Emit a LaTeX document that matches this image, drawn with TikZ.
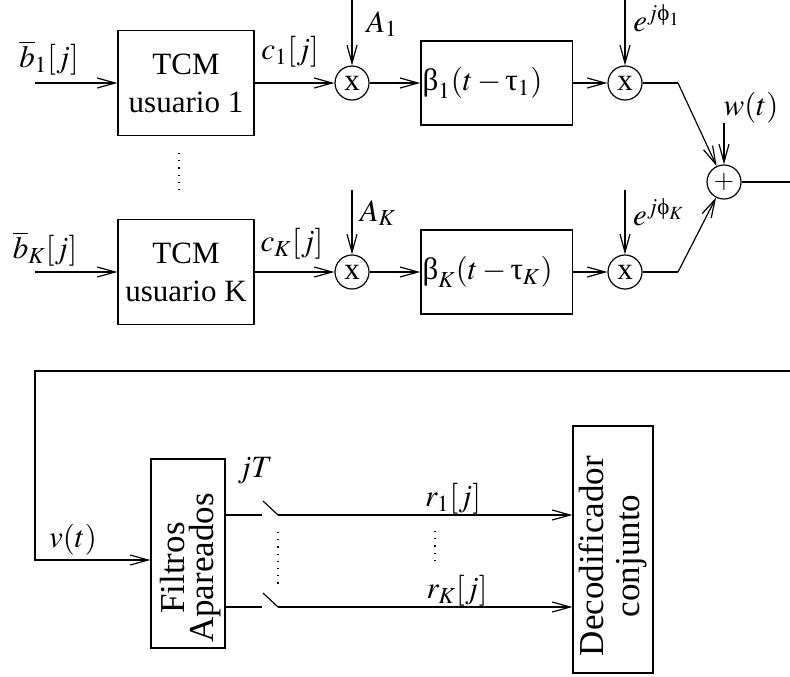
\documentclass[tikz,border=0pt]{standalone}
\usepackage{mathptmx}
\usepackage{amsmath}
\usepackage{fontspec}
\setmainfont{Liberation Serif}
\usetikzlibrary{arrows.meta}
\newcommand{\gbeta}{\text{β}}
\newcommand{\gtau}{\text{τ}}
\newcommand{\gphi}{\text{ϕ}}
\begin{document}
\begin{tikzpicture}[x=0.5pt,y=-0.5pt,
  every node/.style={font=\fontsize{15.5}{19}\selectfont, inner sep=0pt},
  blk/.style={draw, line width=0.6pt, align=center},
  rotblk/.style={rotate=90, align=center},
  mult/.style={draw, circle, minimum size=17pt, line width=0.6pt},
  dots/.style={dash pattern=on 0.6pt off 3pt, line width=0.6pt},
  line width=0.6pt,
  >={Straight Barb[length=9pt,width=5pt]}]
\useasboundingbox (0,0) rectangle (790,676);

% ---------- top row ----------
\node[blk, minimum width=68pt, minimum height=52.5pt] (tcm1) at (186,83) {TCM\\usuario 1};
\node[mult] (m1) at (352,83) {x};
\node[blk, minimum width=75.5pt, minimum height=42pt, inner sep=0.8pt] (bt1) at (496.5,83) {\makebox[74pt][l]{$\gbeta_1(t-\gtau_1)$}};
\node[mult] (m2) at (625,83) {x};
\node[mult] (sum) at (724,182) {\fontsize{13}{13}\selectfont$+$};

\coordinate (in1) at (35,83);
\coordinate (a1) at (352,0);
\coordinate (e1) at (625,0);
\coordinate (k1) at (678,83);
\coordinate (wt) at (724,123);
\coordinate (out) at (790,182);

\draw[->] (in1) -- (in1 -| tcm1.west);
\draw[->] (tcm1) -- (m1);
\draw[->] (a1) -- (m1);
\draw[->] (m1) -- (bt1);
\draw[->] (bt1) -- (m2);
\draw[->] (e1) -- (m2);
\draw (m2) -- (k1);
\draw[->] (k1) -- (sum);
\draw[->] (wt) -- (sum);
\draw (sum) -- (out);

\node (lb1) at (49,58) {$\overline{b}_1[j]$};
\node (lc1) at (290,52) {$c_1[j]$};
\node (lA1) at (382,24) {$A_1$};
\node (le1) at (657,18) {$e^{j\gphi_1}$};
\node (lw) at (751,108) {$w(t)$};

% ---------- bottom row ----------
\node[blk, minimum width=68pt, minimum height=52.5pt] (tcmK) at (186,272) {TCM\\usuario K};
\node[mult] (mK1) at (352,272) {x};
\node[blk, minimum width=75.5pt, minimum height=42pt, inner sep=0.8pt] (btK) at (496.5,272) {\makebox[74pt][l]{$\gbeta_K(t-\gtau_K)$}};
\node[mult] (mK2) at (625,272) {x};

\coordinate (inK) at (35,272);
\coordinate (aK) at (352,190);
\coordinate (eK) at (625,190);
\coordinate (kK) at (678,272);

\draw[->] (inK) -- (inK -| tcmK.west);
\draw[->] (tcmK) -- (mK1);
\draw[->] (aK) -- (mK1);
\draw[->] (mK1) -- (btK);
\draw[->] (btK) -- (mK2);
\draw[->] (eK) -- (mK2);
\draw (mK2) -- (kK);
\draw[->] (kK) -- (sum);

\node (lbK) at (45,249) {$\overline{b}_K[j]$};
\node (lcK) at (292,244) {$c_K[j]$};
\node (lAK) at (378,213) {$A_K$};
\node (leK) at (659,212) {$e^{j\gphi_K}$};

\coordinate (d1a) at (179,153);
\coordinate (d1b) at (179,196);
\draw[dots] (d1a) -- (d1b);

% ---------- receiver ----------
\node[blk, minimum width=37pt, minimum height=94.5pt] (filt) at (188,553.5) {};
\node[rotblk, font=\fontsize{17.5}{14.5}\selectfont] (filttxt) at (191,568) {Filtros\\Apareados};
\node[blk, minimum width=40pt, minimum height=123.5pt] (dec) at (613,549.5) {};
\node[rotblk, font=\fontsize{17.5}{18}\selectfont] (dectxt) at (613,556) {Decodificador\\conjunto};

\coordinate (fb0) at (790,371);
\coordinate (fb1) at (35,371);
\coordinate (fb2) at (35,560);
\draw[->] (fb0) -- (fb1) -- (fb2) -- (fb2 -| filt.west);

\coordinate (o1) at (225,515);
\coordinate (s1a) at (262,515);
\coordinate (s1b) at (263,501);
\coordinate (s1c) at (278,515);
\draw (o1) -- (s1a);
\draw (s1b) -- (s1c);
\draw[->] (s1c) -- (s1c -| dec.west);

\coordinate (o2) at (225,607);
\coordinate (s2a) at (262,607);
\coordinate (s2b) at (263,593);
\coordinate (s2c) at (278,607);
\draw (o2) -- (s2a);
\draw (s2b) -- (s2c);
\draw[->] (s2c) -- (s2c -| dec.west);

\coordinate (d2a) at (278,532);
\coordinate (d2b) at (278,587);
\draw[dots] (d2a) -- (d2b);
\coordinate (d3a) at (435,531);
\coordinate (d3b) at (435,563);
\draw[dots] (d3a) -- (d3b);

\node (lv) at (73,540) {$v(t)$};
\node (ljT) at (255,471) {$jT$};
\node (lr1) at (453,499) {$r_1[j]$};
\node (lrK) at (457,591) {$r_K[j]$};
\end{tikzpicture}
\end{document}
